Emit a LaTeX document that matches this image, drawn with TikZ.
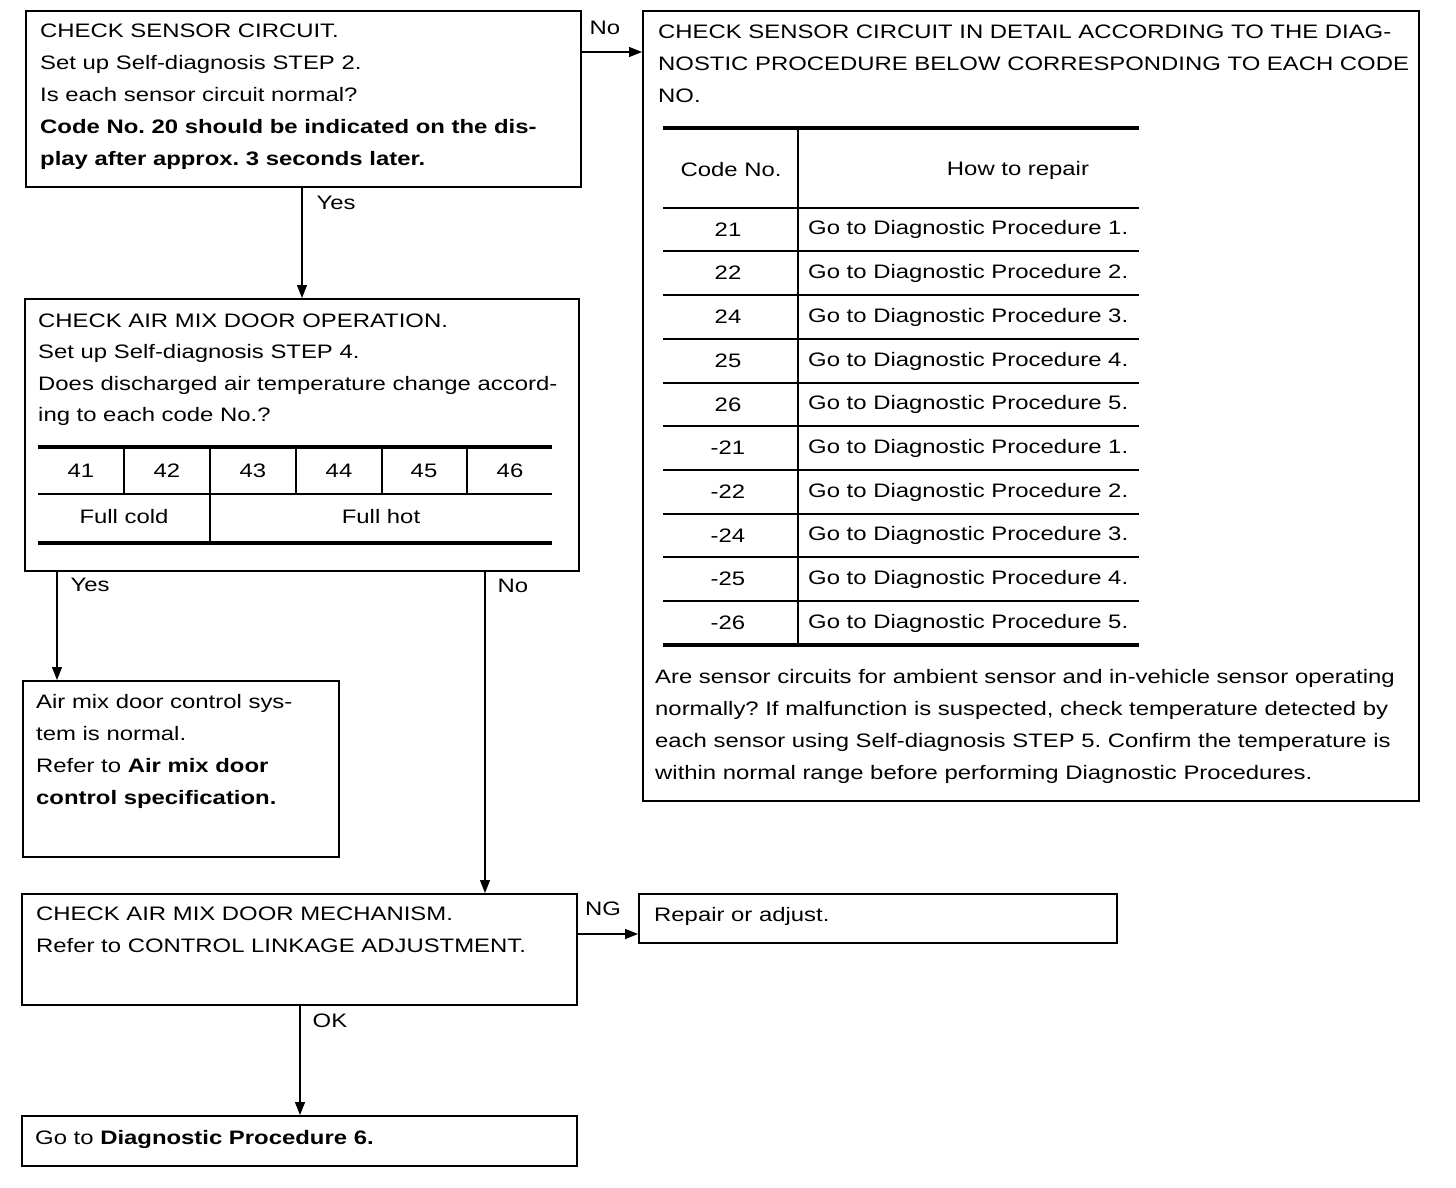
\documentclass[tikz,border=0pt]{standalone}
\usepackage{fontspec}
\setmainfont{Liberation Sans}[FakeStretch=1.225]
\usetikzlibrary{arrows.meta}
\frenchspacing
\newcommand{\fs}{\fontsize{19.5}{32}\selectfont}
\begin{document}
\begin{tikzpicture}[x=1pt,y=-1pt,
  box/.style={draw, line width=1.6pt, inner sep=0pt, anchor=north west},
  txt/.style={anchor=base west, inner sep=0pt, font=\fs},
  ctr/.style={anchor=center, inner sep=0pt, font=\fs},
  lbl/.style={anchor=center, inner sep=0pt, font=\fs},
  arr/.style={line width=1.4pt, -{Triangle[length=13pt,width=10pt]}},
  thick rule/.style={line width=3.5pt},
  thin rule/.style={line width=1.5pt}]
\useasboundingbox[fill=white] (0,0) rectangle (1456,1188);

% ---------- boxes ----------
\node[box, minimum width=555pt, minimum height=176pt] (b1) at (25,10) {};
\node[box, minimum width=776pt, minimum height=790pt] (b2) at (642,10) {};
\node[box, minimum width=554pt, minimum height=272pt] (b3) at (24,298) {};
\node[box, minimum width=316pt, minimum height=176pt] (b4) at (22,680) {};
\node[box, minimum width=555pt, minimum height=111pt] (b5) at (21,893) {};
\node[box, minimum width=478pt, minimum height=49pt] (b6) at (638,893) {};
\node[box, minimum width=555pt, minimum height=50pt] (b7) at (21,1115) {};

% ---------- box 1 text ----------
\node[txt] (t11) at (40,38) {CHECK SENSOR CIRCUIT.};
\node[txt] (t12) at (40,70) {Set up Self-diagnosis STEP 2.};
\node[txt] (t13) at (40,102) {Is each sensor circuit normal?};
\node[txt] (t14) at (40,134) {\bfseries Code No. 20 should be indicated on the dis-};
\node[txt] (t15) at (40,165) {\bfseries play after approx. 3 seconds later.};

% ---------- box 2 text ----------
\node[txt] (t21) at (658,39) {CHECK SENSOR CIRCUIT IN DETAIL ACCORDING TO THE DIAG-};
\node[txt] (t22) at (658,71) {NOSTIC PROCEDURE BELOW CORRESPONDING TO EACH CODE};
\node[txt] (t23) at (658,103) {NO.};

% table in box 2
\draw[thick rule] (663,128) -- (1139,128);
\draw[thick rule] (663,645) -- (1139,645);
\foreach \yy in {208,251,295,339,383,426,470,514,557,601}
  \draw[thin rule] (663,\yy) -- (1139,\yy);
\draw[thin rule] (798,128) -- (798,645);
\node[ctr] (h1) at (731,170) {Code No.};
\node[ctr] (h2) at (1018,170) {How to repair};
\foreach \cc/\yy/\pp in {21/229.5/1, 22/273/2, 24/317/3, 25/361/4, 26/404.5/5,
                         -21/448/1, -22/492/2, -24/535.5/3, -25/579/4, -26/623/5}{
  \node[ctr] at (728,\yy) {\cc};
  \node[anchor=west, inner sep=0pt, font=\fs] at (808,\yy) {Go to Diagnostic Procedure \pp.};
}

\node[txt] (t24) at (655,683) {Are sensor circuits for ambient sensor and in-vehicle sensor operating};
\node[txt] (t25) at (655,715) {normally? If malfunction is suspected, check temperature detected by};
\node[txt] (t26) at (655,747) {each sensor using Self-diagnosis STEP 5. Confirm the temperature is};
\node[txt] (t27) at (655,779) {within normal range before performing Diagnostic Procedures.};

% ---------- box 3 text ----------
\node[txt] (t31) at (38,327) {CHECK AIR MIX DOOR OPERATION.};
\node[txt] (t32) at (38,358) {Set up Self-diagnosis STEP 4.};
\node[txt] (t33) at (38,390) {Does discharged air temperature change accord-};
\node[txt] (t34) at (38,421) {ing to each code No.?};

\draw[thick rule] (38,447) -- (552,447);
\draw[thin rule] (38,494) -- (552,494);
\draw[thick rule] (38,543) -- (552,543);
\foreach \xx in {124,296,382,467}
  \draw[thin rule] (\xx,447) -- (\xx,494);
\draw[thin rule] (210,447) -- (210,543);
\foreach \cc/\xx in {41/81,42/167,43/253,44/339,45/424,46/510}
  \node[ctr] at (\xx,471) {\cc};
\node[ctr] (fc) at (124,517) {Full cold};
\node[ctr] (fh) at (381,517) {Full hot};

% ---------- box 4 text ----------
\node[txt] (t41) at (36,708) {Air mix door control sys-};
\node[txt] (t42) at (36,740) {tem is normal.};
\node[txt] (t43) at (36,772) {Refer to \textbf{Air mix door}};
\node[txt] (t44) at (36,804) {\bfseries control specification.};

% ---------- box 5 / 6 / 7 text ----------
\node[txt] (t51) at (36,920) {CHECK AIR MIX DOOR MECHANISM.};
\node[txt] (t52) at (36,952) {Refer to CONTROL LINKAGE ADJUSTMENT.};
\node[txt] (t61) at (654,921) {Repair or adjust.};
\node[txt] (t71) at (35,1144) {Go to \textbf{Diagnostic Procedure 6.}};

% ---------- connectors ----------
\draw[arr] (b1.east |- 0,52) -- (b2.west |- 0,52);
\node[lbl] at (605,28) {No};
\draw[arr] (b1.south -| 302,0) -- (b3.north -| 302,0);
\node[lbl] at (336,203) {Yes};
\draw[arr] (b3.south -| 57,0) -- (b4.north -| 57,0);
\node[lbl] at (90,585) {Yes};
\draw[arr] (b3.south -| 485,0) -- (b5.north -| 485,0);
\node[lbl] at (513,586) {No};
\draw[arr] (b5.east |- 0,934) -- (b6.west |- 0,934);
\node[lbl] at (603,909) {NG};
\draw[arr] (b5.south -| 300,0) -- (b7.north -| 300,0);
\node[lbl] at (330,1021) {OK};
\end{tikzpicture}
\end{document}
